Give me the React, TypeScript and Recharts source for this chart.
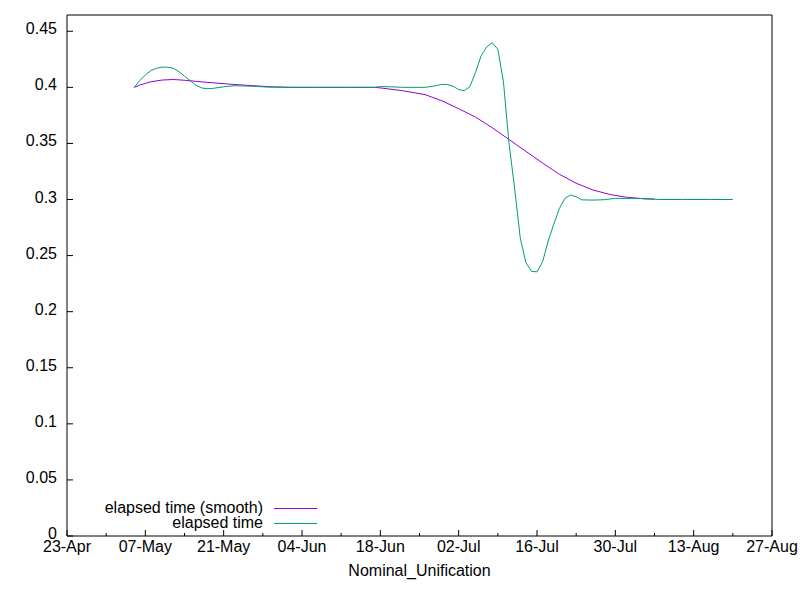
import { LineChart, Line, XAxis, YAxis } from "recharts";

// x values are days since 23-Apr
const TICK_DAYS = [0, 7, 14, 21, 28, 35, 42, 49, 56, 63, 70, 77, 84, 91, 98, 105, 112, 119, 126];
const TICK_LABELS = ["23-Apr", "07-May", "21-May", "04-Jun", "18-Jun", "02-Jul", "16-Jul", "30-Jul", "13-Aug", "27-Aug"];
const Y_TICKS = [0, 0.05, 0.1, 0.15, 0.2, 0.25, 0.3, 0.35, 0.4, 0.45];
const Y_LABELS = ["0", "0.05", "0.1", "0.15", "0.2", "0.25", "0.3", "0.35", "0.4", "0.45"];

const RAW_DAYS = [
  12, 13, 14, 15, 16, 17, 18, 19, 20, 21, 22, 23, 24, 25, 26, 28, 30, 33, 36, 40, 45, 50, 55, 56, 58, 60, 64, 66,
  67, 68, 69, 70, 71, 72, 73, 74, 75, 76, 77, 78, 79, 80, 81, 82, 83, 84, 85, 86, 87, 88, 89, 90, 91, 92, 94, 96,
  98, 100, 102, 104, 106, 110, 115, 119,
];
const RAW_VALUES = [
  0.4, 0.406, 0.411, 0.415, 0.417, 0.418, 0.418, 0.417, 0.414, 0.41, 0.406, 0.402, 0.3995, 0.3988, 0.399, 0.4005,
  0.4015, 0.401, 0.4002, 0.4, 0.4, 0.4, 0.4, 0.4007, 0.4005, 0.4, 0.4, 0.4015, 0.4027, 0.4025, 0.401, 0.398, 0.397,
  0.4006, 0.413, 0.428, 0.436, 0.4398, 0.434, 0.405, 0.35, 0.31, 0.266, 0.244, 0.236, 0.2355, 0.2445, 0.263, 0.278,
  0.292, 0.301, 0.304, 0.3025, 0.2997, 0.2995, 0.2998, 0.301, 0.301, 0.301, 0.3004, 0.3, 0.3, 0.3, 0.3,
];

const SMOOTH_DAYS = [12, 13, 14, 15, 17, 19, 21, 25, 30, 36, 40, 45, 50, 55, 56, 60, 64, 67, 70, 73, 76, 79, 82, 85, 88, 91, 94, 97, 100, 103, 105];
const SMOOTH_VALUES = [
  0.4, 0.402, 0.4035, 0.405, 0.4065, 0.407, 0.4063, 0.4045, 0.4025, 0.4006, 0.4, 0.4, 0.4, 0.4, 0.3995, 0.397, 0.3935,
  0.388, 0.381, 0.3735, 0.364, 0.3535, 0.343, 0.3325, 0.3225, 0.3145, 0.3085, 0.3045, 0.302, 0.3007, 0.3004,
];

const SERIES = [
  { name: "elapsed time (smooth)", color: "#9400d3" },
  { name: "elapsed time", color: "#009e73" },
];

const rawData = RAW_DAYS.map((d, i) => ({ day: d, v: RAW_VALUES[i] }));
const smoothData = SMOOTH_DAYS.map((d, i) => ({ day: d, v: SMOOTH_VALUES[i] }));

const FONT = "'Liberation Sans', Arial, sans-serif";
const FS = 16;

function BottomTick({ x, y, payload }: any) {
  const idx = TICK_DAYS.indexOf(payload.value);
  const major = idx % 2 === 0;
  return (
    <g>
      <line x1={x} y1={y} x2={x} y2={y - (major ? 6 : 3)} stroke="#000" />
      {major && (
        <text x={x} y={y + 16} textAnchor="middle" fontSize={FS} fontFamily={FONT} fill="#000">
          {TICK_LABELS[idx / 2]}
        </text>
      )}
    </g>
  );
}

function TopTick({ x, y, payload }: any) {
  const idx = TICK_DAYS.indexOf(payload.value);
  const major = idx % 2 === 0;
  return <line x1={x} y1={y} x2={x} y2={y + (major ? 6 : 3)} stroke="#000" />;
}

function LeftTick({ x, y, payload }: any) {
  const idx = Y_TICKS.indexOf(payload.value);
  return (
    <g>
      <line x1={x} y1={y} x2={x + 6} y2={y} stroke="#000" />
      <text x={x - 10} y={y + 3} textAnchor="end" fontSize={FS} fontFamily={FONT} fill="#000">
        {Y_LABELS[idx]}
      </text>
    </g>
  );
}

function RightTick({ x, y }: any) {
  return <line x1={x} y1={y} x2={x - 6} y2={y} stroke="#000" />;
}

function GnuLegend() {
  return (
    <svg width={340} height={44} style={{ position: "absolute", left: 0, top: 500, display: "block" }}>
      {SERIES.map((s, i) => (
        <g key={s.name}>
          <text x={263} y={8 + i * 15 + 5} textAnchor="end" fontSize={FS} fontFamily={FONT} fill="#000">
            {s.name}
          </text>
          <line x1={274} x2={317} y1={8.5 + i * 15} y2={8.5 + i * 15} stroke={s.color} strokeWidth={1} />
        </g>
      ))}
    </svg>
  );
}

export default function App() {
  return (
    <div style={{ position: "absolute", left: 0, top: 0, width: 800, height: 600, background: "#fff" }}>
      <LineChart width={800} height={600} margin={{ top: 14, right: 0, bottom: 0, left: 0 }}>
        <XAxis
          xAxisId="b"
          dataKey="day"
          type="number"
          domain={[0, 126]}
          ticks={TICK_DAYS}
          interval={0}
          tickSize={0}
          tickMargin={0}
          tickLine={false}
          tick={<BottomTick />}
          axisLine={{ stroke: "#000" }}
          height={64}
          label={{
            content: ({ viewBox }: any) => (
              <text
                x={viewBox.x + viewBox.width / 2}
                y={viewBox.y + 40}
                textAnchor="middle"
                fontSize={FS}
                fontFamily={FONT}
                fill="#000"
              >
                Nominal_Unification
              </text>
            ),
          }}
        />
        <XAxis
          xAxisId="t"
          orientation="top"
          dataKey="day"
          type="number"
          domain={[0, 126]}
          ticks={TICK_DAYS}
          interval={0}
          tickSize={0}
          tickMargin={0}
          tickLine={false}
          tick={<TopTick />}
          axisLine={{ stroke: "#000" }}
          height={1}
        />
        <YAxis
          yAxisId="l"
          type="number"
          domain={[0, 0.4645]}
          ticks={Y_TICKS}
          interval={0}
          tickSize={0}
          tickMargin={0}
          tickLine={false}
          tick={<LeftTick />}
          axisLine={{ stroke: "#000" }}
          width={67}
        />
        <YAxis
          yAxisId="r"
          orientation="right"
          type="number"
          domain={[0, 0.4645]}
          ticks={Y_TICKS}
          interval={0}
          tickSize={0}
          tickMargin={0}
          tickLine={false}
          tick={<RightTick />}
          axisLine={{ stroke: "#000" }}
          width={28}
        />
        <Line
          xAxisId="b"
          yAxisId="l"
          data={smoothData}
          dataKey="v"
          name={SERIES[0].name}
          type="linear"
          stroke={SERIES[0].color}
          strokeWidth={1}
          dot={false}
          isAnimationActive={false}
        />
        <Line
          xAxisId="b"
          yAxisId="l"
          data={rawData}
          dataKey="v"
          name={SERIES[1].name}
          type="linear"
          stroke={SERIES[1].color}
          strokeWidth={1}
          dot={false}
          isAnimationActive={false}
        />
      </LineChart>
      <GnuLegend />
    </div>
  );
}
